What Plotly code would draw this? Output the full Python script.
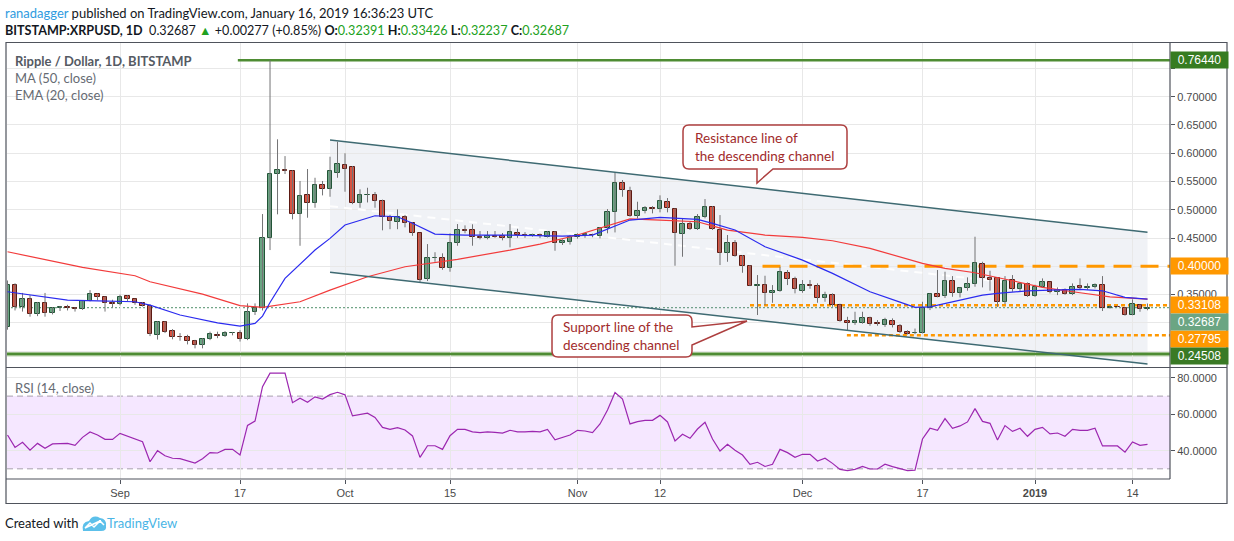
import plotly.graph_objects as go
from datetime import date, timedelta

#########################################################################################
# Data (read off the TradingView snapshot, BITSTAMP:XRPUSD 1D)
#########################################################################################
first_day = date(2018, 8, 17)

opens = [0.292, 0.367, 0.3285, 0.3416, 0.3151, 0.3345, 0.3169, 0.3257, 0.3275, 0.3268,
         0.3250, 0.3392, 0.3505, 0.3452, 0.3352, 0.3340, 0.3474, 0.3416, 0.3345, 0.3303,
         0.2780, 0.3010, 0.2860, 0.2755, 0.2755, 0.2684, 0.2613, 0.2708, 0.2785, 0.2770,
         0.2820, 0.2820, 0.2708, 0.3186, 0.3257, 0.4495, 0.5627, 0.5698, 0.5690, 0.4920,
         0.5256, 0.5125, 0.5433, 0.5373, 0.5656, 0.5787, 0.5757, 0.5125, 0.5256, 0.5256,
         0.5155, 0.4867, 0.4789, 0.4867, 0.4771, 0.4584, 0.3775, 0.4142, 0.4142, 0.3975,
         0.4407, 0.4637, 0.4637, 0.4524, 0.4495, 0.4535, 0.4530, 0.4495, 0.4590, 0.4547,
         0.4530, 0.4555, 0.4524, 0.4601, 0.4407, 0.4425, 0.4518, 0.4555, 0.4560, 0.4545,
         0.4672, 0.4955, 0.5479, 0.5337, 0.4895, 0.4984, 0.5026, 0.5008, 0.5132, 0.5008,
         0.4566, 0.4743, 0.4655, 0.4867, 0.5054, 0.4642, 0.4230, 0.4418, 0.4182, 0.4011,
         0.3657, 0.3675, 0.3522, 0.3560, 0.3888, 0.3775, 0.3568, 0.3669, 0.3660, 0.3434,
         0.3486, 0.3320, 0.3032, 0.2992, 0.2998, 0.3080, 0.2990, 0.2965, 0.3040, 0.2953,
         0.2847, 0.2814, 0.2826, 0.3257, 0.3505, 0.3468, 0.3740, 0.3533, 0.3610, 0.3687,
         0.4050, 0.3788, 0.3788, 0.3363, 0.3758, 0.3593, 0.3687, 0.3480, 0.3639, 0.3717,
         0.3540, 0.3575, 0.3505, 0.3651, 0.3625, 0.3628, 0.3669, 0.3270, 0.3290, 0.3268,
         0.3145, 0.3316, 0.32391]
highs = [0.375, 0.370, 0.353, 0.349, 0.337, 0.353, 0.328, 0.330, 0.332, 0.328,
         0.340, 0.358, 0.352, 0.347, 0.341, 0.350, 0.349, 0.343, 0.337, 0.333,
         0.303, 0.303, 0.289, 0.282, 0.279, 0.270, 0.273, 0.2845, 0.2845, 0.2855,
         0.284, 0.287, 0.3345, 0.3345, 0.4925, 0.7644, 0.6247, 0.595, 0.5698, 0.551,
         0.5721, 0.5567, 0.551, 0.5939, 0.6204, 0.600, 0.5775, 0.5362, 0.539, 0.5315,
         0.518, 0.491, 0.5008, 0.491, 0.478, 0.4594, 0.4394, 0.425, 0.423, 0.4584,
         0.4748, 0.4725, 0.4744, 0.4625, 0.4625, 0.4625, 0.459, 0.4748, 0.4665, 0.4605,
         0.4578, 0.458, 0.4625, 0.4625, 0.4478, 0.4555, 0.4584, 0.4590, 0.4578, 0.4695,
         0.5013, 0.5663, 0.5527, 0.5408, 0.5143, 0.5066, 0.5066, 0.5256, 0.5208, 0.5026,
         0.4849, 0.4790, 0.4925, 0.519, 0.5066, 0.4907, 0.4554, 0.4465, 0.420, 0.4023,
         0.3846, 0.3834, 0.3669, 0.3993, 0.3935, 0.3817, 0.3758, 0.3758, 0.3700, 0.3551,
         0.3522, 0.3339, 0.3108, 0.3197, 0.3197, 0.3110, 0.3050, 0.3090, 0.3080, 0.2980,
         0.2870, 0.2900, 0.3374, 0.3522, 0.3935, 0.3905, 0.3828, 0.3628, 0.3805, 0.4524,
         0.4081, 0.3922, 0.3788, 0.3828, 0.3846, 0.3716, 0.3716, 0.3675, 0.3787, 0.3728,
         0.3628, 0.3610, 0.3698, 0.3787, 0.3698, 0.3698, 0.3828, 0.3310, 0.3305, 0.3280,
         0.3416, 0.3328, 0.33426]
lows = [0.288, 0.322, 0.320, 0.311, 0.312, 0.311, 0.315, 0.321, 0.322, 0.320,
        0.323, 0.338, 0.340, 0.320, 0.327, 0.331, 0.338, 0.332, 0.329, 0.2767,
        0.2705, 0.282, 0.271, 0.2685, 0.262, 0.255, 0.255, 0.2695, 0.273, 0.275,
        0.278, 0.267, 0.2695, 0.314, 0.322, 0.4288, 0.492, 0.5633, 0.4831, 0.4364,
        0.486, 0.5037, 0.5255, 0.5231, 0.5567, 0.532, 0.510, 0.5037, 0.513, 0.5037,
        0.4637, 0.4657, 0.4657, 0.469, 0.454, 0.3717, 0.374, 0.408, 0.394, 0.3905,
        0.4365, 0.4585, 0.4365, 0.4478, 0.4478, 0.4505, 0.4460, 0.4336, 0.4505, 0.4505,
        0.4525, 0.450, 0.451, 0.4276, 0.4378, 0.4385, 0.4490, 0.4505, 0.4515, 0.4495,
        0.4584, 0.4600, 0.5231, 0.4877, 0.4848, 0.4937, 0.4937, 0.4955, 0.4955, 0.4011,
        0.4170, 0.4643, 0.4643, 0.4849, 0.4643, 0.4023, 0.4081, 0.4170, 0.3887, 0.3650,
        0.3139, 0.3315, 0.3356, 0.3551, 0.3669, 0.3522, 0.3533, 0.3604, 0.3356, 0.3374,
        0.3285, 0.3021, 0.2873, 0.2966, 0.2986, 0.2950, 0.2950, 0.2930, 0.2920, 0.2820,
        0.2795, 0.2800, 0.2814, 0.3227, 0.3452, 0.3440, 0.3462, 0.3450, 0.3569, 0.3640,
        0.3628, 0.3569, 0.3285, 0.3333, 0.3551, 0.3557, 0.3460, 0.3460, 0.3628, 0.3522,
        0.3492, 0.3497, 0.3492, 0.3587, 0.3587, 0.3610, 0.3210, 0.3250, 0.3280, 0.3128,
        0.3134, 0.3197, 0.32237]
closes = [0.367, 0.3285, 0.3416, 0.3151, 0.3345, 0.3169, 0.3257, 0.3275, 0.3268, 0.3250,
          0.3392, 0.3505, 0.3452, 0.3345, 0.3340, 0.3462, 0.3416, 0.3345, 0.3303, 0.2797,
          0.3010, 0.2843, 0.2755, 0.2750, 0.2684, 0.2613, 0.2708, 0.2797, 0.2760, 0.2820,
          0.2825, 0.2708, 0.3186, 0.3257, 0.4495, 0.5627, 0.5698, 0.5690, 0.4920, 0.5244,
          0.5125, 0.5438, 0.5373, 0.5686, 0.5804, 0.5727, 0.5125, 0.5256, 0.5262, 0.5155,
          0.4867, 0.4801, 0.4867, 0.4771, 0.4594, 0.3758, 0.4142, 0.4150, 0.3975, 0.4407,
          0.4637, 0.4630, 0.4524, 0.4495, 0.4535, 0.4524, 0.4505, 0.4601, 0.4547, 0.4530,
          0.4553, 0.4535, 0.4601, 0.4407, 0.4453, 0.4518, 0.4555, 0.4565, 0.4550, 0.4672,
          0.4955, 0.5479, 0.5350, 0.4890, 0.4984, 0.5026, 0.5020, 0.5150, 0.5026, 0.4584,
          0.4748, 0.4655, 0.4867, 0.5054, 0.4655, 0.4241, 0.4407, 0.4182, 0.4011, 0.3657,
          0.3675, 0.3522, 0.3563, 0.3894, 0.3770, 0.3593, 0.3669, 0.3651, 0.3434, 0.3492,
          0.3316, 0.3032, 0.2992, 0.3032, 0.3080, 0.2980, 0.2985, 0.3050, 0.2955, 0.2843,
          0.2808, 0.2826, 0.3268, 0.3505, 0.3462, 0.3740, 0.3533, 0.3611, 0.3687, 0.4053,
          0.3788, 0.3764, 0.3363, 0.3740, 0.3593, 0.3687, 0.3480, 0.3639, 0.3717, 0.3540,
          0.3580, 0.3505, 0.3639, 0.3616, 0.3632, 0.3669, 0.3268, 0.3285, 0.3282, 0.3139,
          0.3328, 0.3239, 0.32687]

rsi = [48.6, 41.8, 44.6, 40.3, 44.0, 41.3, 43.7, 44.0, 44.0, 42.9,
       47.3, 50.3, 48.6, 46.2, 46.2, 49.5, 48.1, 46.4, 44.9, 33.9,
       40.0, 37.2, 35.8, 35.6, 34.3, 33.2, 35.6, 38.9, 38.7, 40.7,
       40.7, 37.6, 53.9, 56.3, 75.2, 82.6, 82.6, 82.6, 66.4, 68.8,
       66.6, 69.6, 68.4, 70.8, 72.1, 70.7, 59.1, 60.0, 60.6, 58.3,
       52.8, 51.7, 52.7, 51.4, 48.1, 36.3, 42.7, 42.7, 40.7, 48.2,
       51.7, 51.7, 50.3, 49.9, 50.3, 50.1, 49.7, 51.2, 50.3, 50.3,
       50.6, 50.3, 51.7, 45.9, 47.3, 48.6, 51.2, 50.8, 49.9, 54.7,
       62.4, 72.0, 68.4, 54.7, 56.0, 56.7, 56.7, 59.4, 55.8, 45.3,
       49.0, 46.8, 51.9, 55.6, 46.4, 39.8, 43.5, 40.2, 37.6, 32.5,
       33.6, 31.3, 32.5, 40.7, 38.9, 36.3, 38.0, 38.0, 34.3, 35.8,
       33.0, 29.7, 29.0, 29.7, 31.3, 29.9, 29.9, 32.5, 31.2, 29.9,
       29.0, 29.3, 46.4, 52.3, 51.2, 57.6, 52.3, 53.6, 55.8, 63.1,
       56.1, 55.0, 45.9, 53.8, 50.6, 52.3, 47.9, 51.7, 52.8, 49.2,
       49.7, 47.9, 51.7, 51.2, 51.2, 52.3, 42.6, 42.6, 42.6, 39.2,
       44.8, 42.9, 43.5]

ma50_dates = ['2018-08-17', '2018-08-22', '2018-08-27', '2018-09-03', '2018-09-05', '2018-09-12',
              '2018-09-17', '2018-09-20', '2018-09-25', '2018-09-29', '2018-10-04', '2018-10-09',
              '2018-10-16', '2018-10-23', '2018-10-27', '2018-11-01', '2018-11-04', '2018-11-08',
              '2018-11-12', '2018-11-17', '2018-11-21', '2018-11-26', '2018-12-01', '2018-12-05',
              '2018-12-10', '2018-12-14', '2018-12-17', '2018-12-20', '2018-12-24', '2018-12-29',
              '2019-01-02', '2019-01-07', '2019-01-11', '2019-01-16']
ma50 = [0.4258, 0.4124, 0.3982, 0.3834, 0.3728, 0.3510, 0.3307, 0.3275, 0.3374, 0.3580,
        0.3816, 0.3993, 0.4124, 0.4288, 0.4394, 0.4554, 0.4672, 0.4840, 0.4819, 0.4789,
        0.4642, 0.4554, 0.4513, 0.4453, 0.4318, 0.4170, 0.4053, 0.3965, 0.3887, 0.3745,
        0.3629, 0.3533, 0.3462, 0.3422]

ema20_dates = ['2018-08-17', '2018-08-21', '2018-08-25', '2018-08-29', '2018-09-03', '2018-09-05',
               '2018-09-09', '2018-09-14', '2018-09-17', '2018-09-19', '2018-09-20', '2018-09-21',
               '2018-09-22', '2018-09-23', '2018-09-27', '2018-09-29', '2018-10-01', '2018-10-05',
               '2018-10-08', '2018-10-10', '2018-10-13', '2018-10-17', '2018-10-23', '2018-10-30',
               '2018-11-03', '2018-11-06', '2018-11-08', '2018-11-12', '2018-11-17', '2018-11-19',
               '2018-11-22', '2018-11-26', '2018-12-01', '2018-12-05', '2018-12-10', '2018-12-14',
               '2018-12-16', '2018-12-18', '2018-12-21', '2018-12-25', '2018-12-27', '2018-12-31',
               '2019-01-03', '2019-01-07', '2019-01-10', '2019-01-13', '2019-01-16']
ema20 = [0.3551, 0.3475, 0.3404, 0.3391, 0.3374, 0.3315, 0.3139, 0.3002, 0.2944, 0.2992,
         0.3121, 0.3360, 0.3581, 0.3788, 0.4288, 0.4495, 0.4731, 0.4895, 0.4877, 0.4761,
         0.4571, 0.4554, 0.4554, 0.4536, 0.4554, 0.4713, 0.4819, 0.4867, 0.4831, 0.4761,
         0.4642, 0.4347, 0.4111, 0.3876, 0.3551, 0.3368, 0.3275, 0.3285, 0.3374, 0.3492,
         0.3522, 0.3568, 0.3581, 0.3593, 0.3568, 0.3452, 0.3422]

# drawn descending channel
channel_dates = ['2018-09-29', '2019-01-16']
channel_upper = [0.6234, 0.4601]
channel_lower = [0.3894, 0.2272]

# horizontal levels on the price scale
levels = [0.76440, 0.40000, 0.33108, 0.27795, 0.24508]
last_price = 0.32687

price_ticks = [0.25, 0.30, 0.35, 0.40, 0.45, 0.50, 0.55, 0.60, 0.65, 0.70, 0.75]
rsi_ticks = [40, 60, 80]
tick_dates = ['2018-09-01', '2018-09-17', '2018-10-01', '2018-10-15', '2018-11-01',
              '2018-11-12', '2018-12-01', '2018-12-17', '2019-01-01', '2019-01-14']
tick_labels = ['Sep', '17', 'Oct', '15', 'Nov', '12', 'Dec', '17', '<b>2019</b>', '14']

#########################################################################################
# Page geometry (pixels)
#########################################################################################
W, H = 1234, 541
PL, PR, PT, PB = 7, 1170, 43, 479
SPLIT = 367.5


def px(x):
    return (x - PL) / (PR - PL)


def py(y):
    return (PB - y) / (PB - PT)


def path_px(cmds):
    out = []
    for c, pts in cmds:
        xy = ' '.join('{0:.5f},{1:.5f}'.format(px(pts[i]), py(pts[i + 1])) for i in range(0, len(pts), 2))
        out.append(c + xy)
    return ' '.join(out) + ' Z'


UP_FILL, UP_EDGE = '#6ba583', '#225437'
DN_FILL, DN_EDGE = '#d75442', '#5b1a13'
WICK = '#737375'
GRID = '#e8e8e8'
FRAME = '#4f535c'
ORANGE = '#ff9800'
TXT = 'Lato'
AX = 'Liberation Sans'

days = [first_day + timedelta(days=i) for i in range(len(closes))]

#########################################################################################
# Traces
#########################################################################################
fig = go.Figure()

wx, wy = [], []
for d, lo, hi in zip(days, lows, highs):
    wx += [d, d, None]
    wy += [lo, hi, None]
fig.add_trace(go.Scatter(x=wx, y=wy, mode='lines', line=dict(color=WICK, width=1),
                         hoverinfo='skip', showlegend=False))

rising = [c >= o for o, c in zip(opens, closes)]
fig.add_trace(go.Bar(
    x=days,
    y=[abs(c - o) for o, c in zip(opens, closes)],
    base=[min(o, c) for o, c in zip(opens, closes)],
    width=0.64 * 86400000,
    marker=dict(color=[UP_FILL if r else DN_FILL for r in rising],
                line=dict(color=[UP_EDGE if r else DN_EDGE for r in rising], width=1)),
    showlegend=False,
))

fig.add_trace(go.Scatter(x=ma50_dates, y=ma50, mode='lines', line=dict(color='#f23b3b', width=1.2),
                         showlegend=False))
fig.add_trace(go.Scatter(x=ema20_dates, y=ema20, mode='lines', line=dict(color='#2b2bef', width=1.2),
                         showlegend=False))

fig.add_trace(go.Scatter(x=days, y=rsi, yaxis='y2', mode='lines', line=dict(color='#9c27b0', width=1.2),
                         showlegend=False))

#########################################################################################
# Drawings
#########################################################################################
shapes = []
# channel fill + lines
shapes.append(dict(type='path', xref='x', yref='y', layer='below',
                   path='M {0},{1} L {2},{3} L {2},{4} L {0},{5} Z'.format(
                       channel_dates[0], channel_upper[0], channel_dates[1], channel_upper[1],
                       channel_lower[1], channel_lower[0]),
                   fillcolor='rgba(120,140,170,0.11)', line=dict(width=0)))
shapes.append(dict(type='line', xref='x', yref='y', layer='between',
                   x0=channel_dates[0], x1=channel_dates[1],
                   y0=(channel_upper[0] + channel_lower[0]) / 2, y1=(channel_upper[1] + channel_lower[1]) / 2,
                   line=dict(color='rgba(255,255,255,0.9)', width=2, dash='8px,6px')))
for ys in (channel_upper, channel_lower):
    shapes.append(dict(type='line', xref='x', yref='y', layer='above',
                       x0=channel_dates[0], x1=channel_dates[1], y0=ys[0], y1=ys[1],
                       line=dict(color='#3e6a72', width=1.5)))

# levels
level_style = [
    ('2018-09-16 17:00', dict(color='#4e8c33', width=2.5)),
    ('2018-11-25 16:00', dict(color=ORANGE, width=3, dash='18px,9px')),
    ('2018-11-24 00:00', dict(color=ORANGE, width=2.5, dash='4px,3px')),
    ('2018-12-06 22:00', dict(color=ORANGE, width=2.5, dash='4px,3px')),
    ('2018-08-16 00:00', dict(color='#4e8c33', width=2.5)),
]
shapes.append(dict(type='line', xref='paper', yref='y', layer='between', x0=0, x1=1,
                   y0=levels[4], y1=levels[4], line=dict(color='rgba(110,160,80,0.45)', width=5)))
for val, (start, ln) in zip(levels, level_style):
    shapes.append(dict(type='line', xref='x', yref='y', layer='between', x0=start, x1='2019-01-19',
                       y0=val, y1=val, line=ln))
shapes.append(dict(type='line', xref='paper', yref='y', layer='between', x0=0, x1=1,
                   y0=last_price, y1=last_price, line=dict(color='#4f8f6a', width=1, dash='2px,2px')))

# RSI band
shapes.append(dict(type='rect', xref='paper', yref='y2', layer='below', x0=0, x1=1, y0=30, y1=70,
                   fillcolor='rgba(153,21,255,0.1)', line=dict(width=0)))
for v in (30, 70):
    shapes.append(dict(type='line', xref='paper', yref='y2', layer='between', x0=0, x1=1, y0=v, y1=v,
                       line=dict(color='#a8a2ae', width=1, dash='6px,4px')))

# frame
shapes.append(dict(type='rect', xref='paper', yref='paper', x0=px(6), x1=px(1227), y0=py(503.5), y1=py(42.5),
                   line=dict(color=FRAME, width=1.2)))
shapes.append(dict(type='line', xref='paper', yref='paper', x0=1, x1=1, y0=py(479), y1=py(42.5),
                   line=dict(color=FRAME, width=1.2)))
shapes.append(dict(type='line', xref='paper', yref='paper', x0=px(6), x1=px(1227), y0=py(SPLIT), y1=py(SPLIT),
                   line=dict(color=FRAME, width=1.2)))
shapes.append(dict(type='line', xref='paper', yref='paper', x0=px(6), x1=1, y0=py(479), y1=py(479),
                   line=dict(color=FRAME, width=1.2)))

# callouts
callout_red = '#ad3f3f'
shapes.append(dict(type='path', xref='paper', yref='paper', layer='above', fillcolor='white',
                   line=dict(color=callout_red, width=1.5),
                   path=path_px([('M', [689, 125]), ('L', [841, 125]), ('Q', [847, 125, 847, 131]),
                                 ('L', [847, 163]), ('Q', [847, 169, 841, 169]), ('L', [773, 169]),
                                 ('L', [757, 183]), ('L', [757, 169]), ('L', [689, 169]),
                                 ('Q', [683, 169, 683, 163]), ('L', [683, 131]), ('Q', [683, 125, 689, 125])])))
shapes.append(dict(type='path', xref='paper', yref='paper', layer='above', fillcolor='white',
                   line=dict(color=callout_red, width=1.5),
                   path=path_px([('M', [558, 315]), ('L', [686, 315]), ('Q', [692, 315, 692, 321]),
                                 ('L', [692, 327]), ('L', [747, 321]), ('L', [692, 345]), ('L', [692, 351]),
                                 ('Q', [692, 357, 686, 357]), ('L', [558, 357]), ('Q', [552, 357, 552, 351]),
                                 ('L', [552, 321]), ('Q', [552, 315, 558, 315])])))

# TradingView logo (rough)
shapes.append(dict(type='path', xref='paper', yref='paper', fillcolor='#5cc0ea', line=dict(width=0),
                   path=path_px([('M', [83, 531]), ('Q', [81, 522, 89, 521]), ('Q', [93, 514, 100, 518]),
                                 ('Q', [107, 519, 106, 526]), ('Q', [107, 531, 101, 531])])))
shapes.append(dict(type='path', xref='paper', yref='paper', line=dict(color='white', width=1.5),
                   path=path_px([('M', [85, 528]), ('L', [90, 523]), ('L', [94, 527]), ('L', [100, 521]),
                                 ('L', [104, 525]), ('L', [100, 521])])))

#########################################################################################
# Text
#########################################################################################
ann = []


def text(x, y, s, size=13, color='#131722', family=TXT, **kw):
    ann.append(dict(xref='paper', yref='paper', x=px(x), y=py(y), xanchor='left', yanchor='middle',
                    text=s, showarrow=False, font=dict(family=family, size=size, color=color),
                    borderpad=0, **kw))


G = "<span style='color:#21a121'>{0}</span>"
text(4, 13, "<span style='color:#2f9be0'>ranadagger</span> published on TradingView.com, "
            "January 16, 2019 16:36:23 UTC", size=13)
text(4, 30, "<b>BITSTAMP:XRPUSD, 1D</b>  0.32687 " + G.format('▲') + " +0.00277 (+0.85%) "
            "<b>O:</b>" + G.format('0.32391') + " <b>H:</b>" + G.format('0.33426') +
            " <b>L:</b>" + G.format('0.32237') + " <b>C:</b>" + G.format('0.32687'), size=12.6)
text(14, 61, '<b>Ripple / Dollar, 1D, BITSTAMP</b>', size=13, color='#555a63')
text(14, 78, 'MA (50, close)', size=13, color='#666b73')
text(14, 95, 'EMA (20, close)', size=13, color='#666b73')
text(14, 388, 'RSI (14, close)', size=13, color='#666b73')
text(4, 523, 'Created with', size=13, color='#131722')
text(106, 523, 'TradingView', size=13, color='#49b5e6')

text(694, 147, 'Resistance line of<br>the descending channel', size=13.5, color='#a12b2b', align='left')
text(562, 336, 'Support line of the<br>descending channel', size=13.5, color='#a12b2b', align='left')

# price scale labels (the last two sit a little lower so they do not overlap)
box_style = [('#367c21', 0), (ORANGE, 0), (ORANGE, 0), (ORANGE, -3.7), ('#3a7a25', -1.6)]
for val, (bg, shift) in zip(levels, box_style):
    ann.append(dict(xref='paper', yref='y', x=1, y=val, xanchor='left', yanchor='middle', yshift=shift,
                    text='{0:.5f}'.format(val), showarrow=False, bgcolor=bg, borderpad=1, width=55,
                    height=14, align='center', font=dict(family=AX, size=12, color='white')))
ann.append(dict(xref='paper', yref='y', x=1, y=last_price, xanchor='left', yanchor='middle', yshift=-14.4,
                text='{0:.5f}'.format(last_price), showarrow=False, bgcolor='#6ba583', borderpad=1, width=55,
                height=14, align='center', font=dict(family=AX, size=12, color='white')))

# tick labels hidden behind the level boxes are left blank
hidden = (0.25, 0.30, 0.40, 0.75)
price_text = ['' if t in hidden else '{0:.5f}'.format(t) for t in price_ticks]

#########################################################################################
# Layout
#########################################################################################
fig.update_layout(
    width=W, height=H,
    margin=dict(l=PL, r=W - PR, t=PT, b=H - PB, autoexpand=False),
    paper_bgcolor='white', plot_bgcolor='white',
    font=dict(family=AX, size=11, color='#4a4a4a'),
    bargap=0, hovermode=False,
    shapes=shapes, annotations=ann,
    xaxis=dict(type='date', range=['2018-08-16 22:20', '2019-01-19 00:00'], anchor='y2',
               tickvals=tick_dates, ticktext=tick_labels, showgrid=True, gridcolor=GRID,
               ticks='outside', ticklen=4, tickcolor=FRAME, showline=False, zeroline=False,
               tickfont=dict(family=AX, size=11, color='#4a4a4a'), automargin=False),
    yaxis=dict(domain=[py(SPLIT) + 0.001, 1], range=[0.2219, 0.7950], side='right', anchor='x',
               tickvals=price_ticks, ticktext=price_text, gridcolor=GRID, zeroline=False,
               ticks='outside', ticklen=4, tickcolor=FRAME,
               tickfont=dict(family=AX, size=11, color='#4a4a4a'), automargin=False),
    yaxis2=dict(domain=[0, py(SPLIT) - 0.001], range=[24.4, 85.5], side='right', anchor='x',
                tickvals=rsi_ticks, tickformat='.4f', gridcolor=GRID, zeroline=False,
                ticks='outside', ticklen=4, tickcolor=FRAME,
                tickfont=dict(family=AX, size=11, color='#4a4a4a'), automargin=False),
)

# the page's default 8px body margin would push the whole snapshot off its frame
fig.write_html('out.html', config={'displayModeBar': False},
               post_script="document.body.style.margin='0';")
